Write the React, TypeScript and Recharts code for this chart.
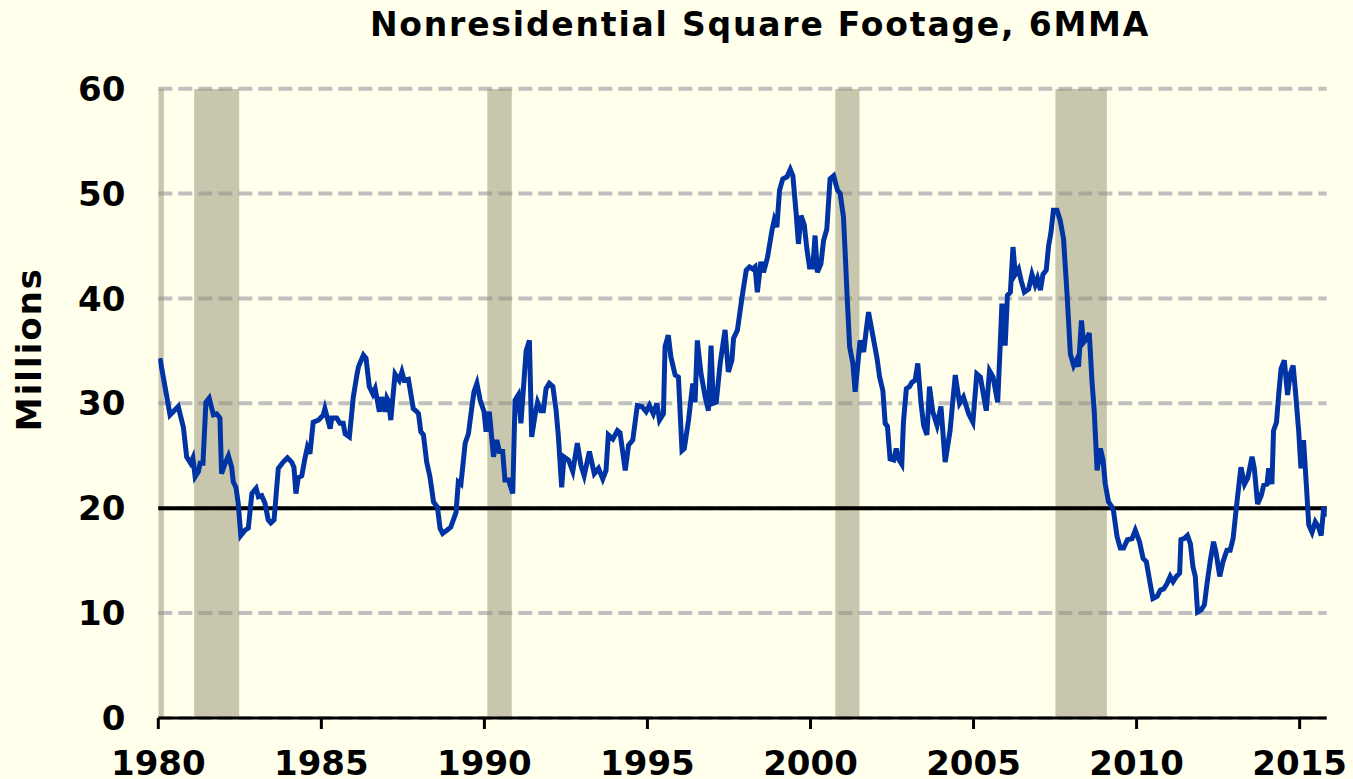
import React from "react";
import { LineChart, Line, XAxis, YAxis, CartesianGrid, ReferenceArea, ReferenceLine } from "recharts";

// monthly-ish readings of the 6-month moving average, millions of sq ft
const years = [
  1980.05, 1980.36, 1980.61, 1980.77, 1980.87, 1980.99, 1981.06, 1981.13, 1981.23, 1981.28, 1981.37, 1981.46,
  1981.56, 1981.69, 1981.79, 1981.89, 1981.94, 1982.05, 1982.15, 1982.25, 1982.3, 1982.38, 1982.45, 1982.53,
  1982.66, 1982.76, 1982.87, 1983.0, 1983.07, 1983.17, 1983.27, 1983.37, 1983.45, 1983.55, 1983.68, 1983.83,
  1983.96, 1984.09, 1984.16, 1984.22, 1984.29, 1984.4, 1984.5, 1984.57, 1984.65, 1984.75, 1984.91, 1985.06,
  1985.11, 1985.27, 1985.32, 1985.47, 1985.57, 1985.67, 1985.73, 1985.86, 1985.98, 1986.09, 1986.14, 1986.29,
  1986.37, 1986.47, 1986.58, 1986.65, 1986.78, 1986.85, 1986.95, 1987.01, 1987.06, 1987.13, 1987.26, 1987.39,
  1987.47, 1987.54, 1987.67, 1987.82, 1987.93, 1987.98, 1988.05, 1988.13, 1988.23, 1988.33, 1988.44, 1988.56,
  1988.64, 1988.72, 1988.85, 1988.97, 1989.13, 1989.2, 1989.28, 1989.41, 1989.51, 1989.61, 1989.68, 1989.77,
  1989.87, 1989.99, 1990.05, 1990.15, 1990.28, 1990.38, 1990.46, 1990.56, 1990.63, 1990.74, 1990.87, 1990.94,
  1991.04, 1991.12, 1991.28, 1991.38, 1991.45, 1991.56, 1991.63, 1991.73, 1991.81, 1991.89, 1991.99, 1992.1,
  1992.2, 1992.27, 1992.37, 1992.44, 1992.58, 1992.71, 1992.85, 1992.96, 1993.06, 1993.22, 1993.37, 1993.5,
  1993.63, 1993.73, 1993.8, 1993.94, 1994.08, 1994.16, 1994.32, 1994.42, 1994.55, 1994.69, 1994.83, 1994.96,
  1995.06, 1995.18, 1995.29, 1995.37, 1995.49, 1995.54, 1995.64, 1995.72, 1995.85, 1995.95, 1996.06, 1996.13,
  1996.26, 1996.39, 1996.46, 1996.53, 1996.64, 1996.77, 1996.87, 1996.95, 1997.02, 1997.11, 1997.23, 1997.38,
  1997.48, 1997.59, 1997.64, 1997.76, 1997.9, 1998.03, 1998.13, 1998.23, 1998.3, 1998.37, 1998.48, 1998.56,
  1998.68, 1998.82, 1998.89, 1998.97, 1999.05, 1999.15, 1999.28, 1999.38, 1999.46, 1999.56, 1999.63, 1999.71,
  1999.81, 1999.89, 1999.97, 2000.07, 2000.14, 2000.21, 2000.32, 2000.4, 2000.5, 2000.6, 2000.71, 2000.83,
  2000.91, 2001.01, 2001.06, 2001.13, 2001.2, 2001.3, 2001.37, 2001.52, 2001.63, 2001.71, 2001.78, 2001.88,
  2002.04, 2002.12, 2002.22, 2002.29, 2002.36, 2002.44, 2002.55, 2002.63, 2002.7, 2002.8, 2002.85, 2002.94,
  2003.04, 2003.11, 2003.21, 2003.29, 2003.39, 2003.47, 2003.57, 2003.65, 2003.75, 2003.88, 2004.0, 2004.13,
  2004.28, 2004.44, 2004.57, 2004.69, 2004.85, 2004.98, 2005.1, 2005.21, 2005.39, 2005.49, 2005.6, 2005.74,
  2005.82, 2005.87, 2005.97, 2006.04, 2006.13, 2006.21, 2006.28, 2006.38, 2006.46, 2006.56, 2006.69, 2006.79,
  2006.89, 2006.96, 2007.05, 2007.13, 2007.23, 2007.3, 2007.37, 2007.45, 2007.56, 2007.66, 2007.76, 2007.87,
  2007.97, 2008.07, 2008.15, 2008.22, 2008.31, 2008.37, 2008.48, 2008.55, 2008.63, 2008.7, 2008.79, 2008.89,
  2008.97, 2009.04, 2009.14, 2009.25, 2009.29, 2009.4, 2009.5, 2009.6, 2009.72, 2009.86, 2009.96, 2010.09,
  2010.2, 2010.3, 2010.4, 2010.5, 2010.63, 2010.73, 2010.83, 2010.93, 2011.03, 2011.12, 2011.22, 2011.32,
  2011.36, 2011.46, 2011.56, 2011.65, 2011.73, 2011.8, 2011.87, 2011.98, 2012.08, 2012.16, 2012.26, 2012.36,
  2012.44, 2012.55, 2012.65, 2012.77, 2012.87, 2012.96, 2013.06, 2013.13, 2013.2, 2013.31, 2013.41, 2013.54,
  2013.61, 2013.71, 2013.82, 2013.9, 2014.0, 2014.05, 2014.15, 2014.2, 2014.29, 2014.36, 2014.43, 2014.53,
  2014.63, 2014.71, 2014.8, 2014.87, 2014.97, 2015.04, 2015.12, 2015.21, 2015.28, 2015.38, 2015.48, 2015.58,
  2015.66, 2015.74, 2015.82,
];

const footage = [
  34.3, 28.9, 29.7, 27.7, 24.9, 24.3, 24.8, 23.0, 23.5, 24.3, 24.3, 30.1,
  30.5, 28.9, 29.0, 28.6, 23.3, 24.3, 25.0, 23.9, 22.5, 22.0, 20.5, 17.4,
  17.9, 18.1, 21.4, 21.9, 21.1, 21.2, 20.5, 18.9, 18.6, 18.9, 23.8, 24.4,
  24.8, 24.4, 23.9, 21.4, 22.9, 23.1, 24.8, 25.8, 25.2, 28.2, 28.4, 28.9,
  29.5, 27.6, 28.6, 28.6, 28.1, 28.1, 27.1, 26.8, 30.6, 32.7, 33.5, 34.6,
  34.3, 31.6, 30.9, 31.4, 29.2, 30.6, 29.2, 30.5, 30.2, 28.4, 32.8, 32.2,
  33.0, 32.2, 32.3, 29.5, 29.2, 29.0, 27.3, 27.0, 24.4, 23.0, 20.6, 20.1,
  18.1, 17.6, 17.9, 18.2, 19.6, 22.5, 22.3, 26.2, 27.1, 29.5, 31.1, 31.9,
  30.3, 29.2, 27.3, 29.2, 24.9, 26.5, 25.4, 25.4, 22.7, 22.7, 21.4, 30.3,
  30.8, 28.1, 35.0, 36.0, 26.8, 29.0, 30.1, 29.3, 29.3, 31.4, 31.9, 31.6,
  29.3, 26.8, 22.0, 24.9, 24.6, 23.5, 26.2, 24.1, 23.1, 25.4, 23.3, 23.8,
  22.8, 23.6, 27.0, 26.6, 27.4, 27.2, 23.6, 26.0, 26.5, 29.8, 29.7, 29.2,
  29.8, 29.0, 30.0, 28.4, 29.0, 35.4, 36.5, 34.4, 32.7, 32.5, 25.5, 25.7,
  28.4, 31.9, 30.1, 36.0, 32.9, 30.6, 29.3, 35.5, 30.0, 30.1, 33.8, 37.0,
  33.0, 34.1, 36.2, 37.0, 40.1, 42.7, 43.0, 42.8, 43.0, 40.6, 43.5, 42.5,
  43.9, 46.5, 47.5, 46.8, 50.3, 51.4, 51.6, 52.3, 51.7, 48.1, 45.2, 47.9,
  47.0, 44.7, 43.0, 43.0, 46.0, 42.5, 43.3, 45.5, 46.6, 51.4, 51.7, 50.3,
  50.0, 47.8, 44.6, 39.8, 35.4, 33.8, 31.1, 36.0, 34.9, 37.0, 38.7, 37.0,
  34.3, 32.5, 31.2, 28.1, 27.8, 24.7, 24.6, 25.7, 24.7, 24.2, 28.2, 31.4,
  31.6, 32.0, 32.2, 33.8, 30.0, 27.9, 27.0, 31.6, 29.2, 27.9, 29.7, 24.4,
  27.4, 32.7, 30.0, 30.6, 29.0, 28.2, 32.8, 32.5, 29.3, 33.1, 32.5, 30.1,
  35.7, 39.5, 35.5, 40.3, 40.6, 44.9, 42.3, 42.8, 41.7, 40.6, 40.9, 42.3,
  41.3, 41.9, 40.8, 42.3, 42.7, 45.0, 46.2, 48.4, 48.4, 47.4, 45.7, 40.3,
  34.7, 33.6, 34.1, 33.5, 37.9, 35.8, 36.2, 36.7, 32.2, 29.3, 23.6, 25.7,
  24.6, 22.3, 20.6, 20.1, 19.8, 17.3, 16.2, 16.2, 17.0, 17.1, 17.9, 16.8,
  15.2, 14.9, 13.1, 11.4, 11.6, 12.2, 12.3, 12.8, 13.5, 13.0, 13.5, 13.8,
  17.0, 17.1, 17.4, 16.6, 14.4, 13.5, 10.1, 10.3, 10.8, 12.8, 15.0, 16.8,
  15.7, 13.5, 14.9, 16.0, 16.0, 17.1, 20.1, 22.0, 23.9, 22.3, 22.9, 24.9,
  23.8, 20.4, 21.2, 22.2, 22.3, 23.8, 22.3, 27.4, 28.2, 30.9, 33.3, 34.1,
  30.8, 32.8, 33.6, 31.2, 27.4, 23.8, 26.5, 22.0, 18.4, 17.7, 18.7, 18.2,
  17.4, 20.1, 19.2,
];

const recessionStarts = [1980.0, 1981.1, 1990.09, 2000.76, 2007.51];
const recessionEnds = [1980.17, 1982.48, 1990.84, 2001.5, 2009.09];

const yearTicks = [1980, 1985, 1990, 1995, 2000, 2005, 2010, 2015];
const valueTicks = [0, 10, 20, 30, 40, 50, 60];

const data = years.map((t, i) => ({ t, v: footage[i] }));

const font = "'DejaVu Sans', Verdana, sans-serif";
const tickStyle = { fontFamily: font, fontWeight: 700, fontSize: 34, fill: "#000" };

export default function App() {
  return (
    <div
      style={{
        position: "absolute",
        left: 0,
        top: 0,
        width: 1353,
        height: 779,
        background: "#FFFFEB",
        overflow: "hidden",
      }}
    >
      <div
        style={{
          position: "absolute",
          left: 160,
          top: 5,
          width: 1200,
          lineHeight: "40px",
          textAlign: "center",
          fontFamily: font,
          fontWeight: 700,
          fontSize: 33,
          letterSpacing: 1.8,
          color: "#000",
        }}
      >
        Nonresidential Square Footage, 6MMA
      </div>
      <div
        style={{
          position: "absolute",
          left: 29 - 100,
          top: 349 - 20,
          width: 200,
          height: 40,
          lineHeight: "40px",
          textAlign: "center",
          fontFamily: font,
          fontWeight: 700,
          fontSize: 34,
          letterSpacing: 2,
          color: "#000",
          transform: "rotate(-90deg)",
        }}
      >
        Millions
      </div>
      <LineChart
        width={1353}
        height={779}
        data={data}
        margin={{ top: 88.7, right: 26.3, left: 58.3, bottom: 0 }}
      >
        <CartesianGrid
          horizontal
          vertical={false}
          stroke="#c0c0c0"
          strokeWidth={4}
          strokeDasharray="14 6"
        />
        {recessionStarts.map((s, i) => (
          <ReferenceArea
            key={s}
            x1={s}
            x2={recessionEnds[i]}
            y1={0}
            y2={60}
            fill="#918f71"
            fillOpacity={0.5}
            stroke="none"
            ifOverflow="hidden"
          />
        ))}
        <XAxis
          dataKey="t"
          type="number"
          domain={[1980, 2015.83]}
          ticks={yearTicks}
          allowDataOverflow
          height={61}
          tick={tickStyle}
          tickSize={11}
          tickMargin={22}
          axisLine={{ stroke: "#000", strokeWidth: 3 }}
          tickLine={{ stroke: "#000", strokeWidth: 3 }}
        />
        <YAxis
          type="number"
          domain={[0, 60]}
          ticks={valueTicks}
          width={100}
          tick={tickStyle}
          tickSize={0}
          tickMargin={33}
          axisLine={false}
          tickLine={false}
        />
        <ReferenceLine y={20} stroke="#000" strokeWidth={4} />
        <Line
          type="linear"
          dataKey="v"
          stroke="#0033A3"
          strokeWidth={5}
          dot={false}
          isAnimationActive={false}
        />
      </LineChart>
    </div>
  );
}
